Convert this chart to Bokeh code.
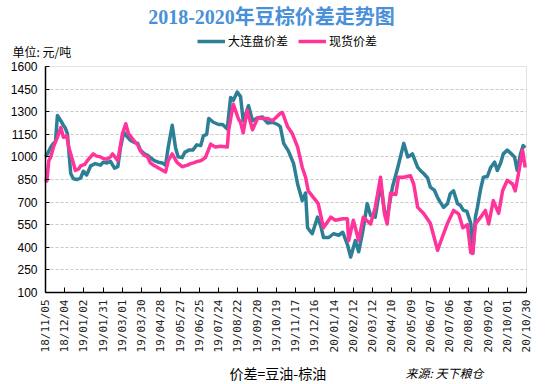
from bokeh.plotting import figure
from bokeh.models import Label, FixedTicker, Legend, LegendItem, Range1d, BoxAnnotation, Grid
from bokeh.embed import file_html
from bokeh.resources import INLINE

# x tick labels (every 29 days from 2018-11-05)
tick_labels = ["18/11/05", "18/12/04", "19/01/02", "19/01/31", "19/03/01", "19/03/30",
               "19/04/28", "19/05/27", "19/06/25", "19/07/24", "19/08/22", "19/09/20",
               "19/10/19", "19/11/17", "19/12/16", "20/01/14", "20/02/12", "20/03/12",
               "20/04/10", "20/05/09", "20/06/07", "20/07/06", "20/08/04", "20/09/02",
               "20/10/01", "20/10/30"]
y_ticks = [100, 250, 400, 550, 700, 850, 1000, 1150, 1300, 1450, 1600]

# 大连盘价差 : days since 2018-11-05, value (元/吨)
dce_day = [0, 3, 8, 12, 15, 18, 23, 27, 30, 33, 38, 42, 48, 53, 57, 62, 68, 75, 83, 87, 93,
           98, 104, 109, 113, 118, 122, 128, 134, 139, 143, 149, 154, 158, 164, 170, 176, 181,
           185, 191, 196, 200, 206, 210, 216, 222, 228, 234, 238, 243, 246, 253, 261, 267, 274,
           279, 283, 289, 294, 298, 303, 306, 312, 320, 327, 335, 342, 350, 354, 359, 366, 374,
           380, 387, 392, 395, 402, 410, 415, 419, 427, 434, 442, 448, 455, 460, 467, 472, 478,
           485, 490, 497, 505, 511, 515, 523, 531, 540, 546, 550, 553, 561, 565, 570, 576, 580,
           586, 591, 595, 600, 606, 610, 615, 621, 625, 630, 635, 638, 641, 644, 648, 651, 656,
           660, 666, 671, 677, 681, 686, 690, 696, 701, 707, 711, 716, 720, 723]
dce_val = [1000, 1020, 1065, 1090, 1100, 1275, 1240, 1210, 1190, 1155, 890, 855, 850, 860, 905,
           880, 940, 955, 945, 965, 960, 970, 925, 935, 1060, 1165, 1140, 1110, 1095, 1090, 1045,
           1020, 1010, 995, 975, 965, 960, 945, 1065, 1210, 1060, 1000, 995, 1030, 1045, 1045,
           1080, 1075, 1140, 1150, 1255, 1230, 1215, 1215, 1185, 1395, 1375, 1430, 1400, 1240,
           1300, 1340, 1240, 1260, 1265, 1225, 1230, 1215, 1200, 1090, 1040, 955, 820, 710, 760,
           530, 490, 600, 540, 465, 465, 490, 480, 500, 420, 335, 445, 370, 500, 690, 610, 600,
           820, 640, 600, 800, 930, 1090, 1000, 1010, 1020, 930, 910, 890, 860, 800, 780, 730,
           700, 665, 690, 755, 775, 690, 680, 645, 640, 600, 560, 360, 600, 665, 790, 865, 870,
           930, 965, 910, 960, 1020, 1045, 1025, 1000, 910, 1020, 1075, 1060]

# 现货价差
spot_day = [0, 2, 5, 8, 12, 15, 18, 23, 27, 32, 35, 41, 45, 50, 53, 59, 63, 68, 72, 77, 83,
            87, 93, 98, 101, 109, 116, 121, 125, 133, 139, 143, 149, 154, 158, 163, 169, 173,
            181, 185, 191, 196, 199, 206, 214, 219, 223, 229, 234, 241, 249, 256, 264, 274,
            276, 283, 291, 294, 298, 304, 312, 320, 327, 335, 342, 347, 354, 357, 365, 372,
            380, 387, 392, 396, 404, 411, 419, 430, 437, 448, 455, 457, 464, 472, 479, 490,
            497, 505, 511, 515, 520, 528, 532, 540, 550, 555, 561, 570, 580, 591, 595, 606,
            615, 623, 629, 636, 641, 644, 648, 656, 663, 668, 675, 683, 689, 696, 704, 708,
            713, 719, 723]
spot_val = [855, 840, 975, 1000, 1065, 1100, 1130, 1195, 1130, 1140, 1065, 975, 910, 920, 940,
            950, 975, 1000, 1020, 1005, 1000, 990, 985, 1000, 1020, 975, 1155, 1220, 1155, 1110,
            1080, 1040, 1010, 1000, 960, 945, 930, 920, 900, 975, 1020, 980, 960, 935, 945, 955,
            960, 970, 975, 995, 1085, 1065, 1070, 1065, 1175, 1350, 1250, 1230, 1160, 1310,
            1180, 1260, 1255, 1255, 1240, 1260, 1290, 1295, 1200, 1155, 1065, 930, 865, 775,
            730, 690, 530, 600, 580, 590, 590, 445, 580, 445, 600, 555, 665, 865, 620, 555, 760,
            750, 865, 865, 875, 820, 665, 625, 560, 380, 430, 560, 645, 620, 530, 550, 365,
            360, 555, 600, 645, 555, 710, 625, 775, 845, 820, 775, 890, 1045, 930]

W, H = 547, 384
# where the plotting box sits on the canvas (pixels)
BOX_L, BOX_R, BOX_T, BOX_B = 45, 526, 66, 292
X0, X1 = 0, 725            # days shown
Y0, Y1 = y_ticks[0], y_ticks[-1]
px_day = (BOX_R - BOX_L) / (X1 - X0)
val_px = (Y1 - Y0) / (BOX_B - BOX_T)
x_range = Range1d(X0 - BOX_L / px_day, X1 + (W - BOX_R) / px_day)
y_range = Range1d(Y0 - (H - BOX_B) * val_px, Y1 + BOX_T * val_px)

p = figure(width=W, height=H, output_backend="svg", toolbar_location=None, title=None,
           x_range=x_range, y_range=y_range, min_border=0,
           min_border_left=0, min_border_right=0, min_border_top=0, min_border_bottom=0,
           background_fill_color="white", border_fill_color="white")
p.outline_line_color = None

# plot box (gray top/right border)
p.add_layout(BoxAnnotation(left=X0, right=X1, bottom=Y0, top=Y1, fill_color=None,
                           line_color="#a0a0a0", line_width=1, level="underlay"))

# grid
p.xgrid.visible = False
grid_vals = y_ticks[1:-1]
if "cross_bounds" in Grid.properties():
    p.ygrid.ticker = FixedTicker(ticks=grid_vals)
    p.ygrid.cross_bounds = (X0, X1)
    p.ygrid.grid_line_color = "#c8c8c8"
    p.ygrid.grid_line_dash = "3 2"
else:
    p.ygrid.visible = False
    p.segment(x0=[X0] * len(grid_vals), x1=[X1] * len(grid_vals), y0=grid_vals, y1=grid_vals,
              line_color="#c8c8c8", line_dash="3 2", line_width=1)

# y axis
p.yaxis.fixed_location = X0
p.yaxis.bounds = (Y0, Y1)
p.yaxis.ticker = FixedTicker(ticks=y_ticks)
p.yaxis.major_label_text_font = "Liberation Sans"
p.yaxis.major_label_text_font_size = "12px"
p.yaxis.major_label_text_color = "#000000"
p.yaxis.axis_line_color = "#000000"
p.yaxis.axis_line_width = 1.5
p.yaxis.major_tick_in = 4
p.yaxis.major_tick_out = 0
p.yaxis.minor_tick_line_color = None
p.yaxis.major_label_standoff = 8

# x axis
x_ticks = [29 * i for i in range(len(tick_labels))]
p.xaxis.fixed_location = Y0
p.xaxis.bounds = (X0, X1)
p.xaxis.ticker = FixedTicker(ticks=x_ticks)
p.xaxis.major_label_overrides = {t: l for t, l in zip(x_ticks, tick_labels)}
p.xaxis.major_label_orientation = 1.5708
p.xaxis.major_label_text_font = "DejaVu Sans Mono"
p.xaxis.major_label_text_font_size = "11px"
p.xaxis.major_label_text_color = "#222222"
p.xaxis.axis_line_color = "#000000"
p.xaxis.axis_line_width = 1.5
p.xaxis.major_tick_in = 5
p.xaxis.major_tick_out = 0
p.xaxis.minor_tick_line_color = None
p.xaxis.major_label_standoff = 7

r1 = p.line(dce_day, dce_val, line_color="#2C7F95", line_width=3.5, line_join="round")
r2 = p.line(spot_day, spot_val, line_color="#FF3399", line_width=3.5, line_join="round")

legend = Legend(items=[LegendItem(label="大连盘价差", renderers=[r1]),
                       LegendItem(label="现货价差", renderers=[r2])],
                orientation="horizontal", location=(197, H - 49),
                label_text_font="Noto Sans CJK SC", label_text_font_size="12px",
                label_text_color="#000000",
                glyph_width=28, glyph_height=12, spacing=10, label_standoff=3,
                background_fill_alpha=0, border_line_color=None, padding=0, margin=0)
p.add_layout(legend)

p.add_layout(Label(x=271, y=H - 16, x_units="screen", y_units="screen",
                   text="2018-2020年豆棕价差走势图", text_align="center", text_baseline="middle",
                   text_font="'Liberation Serif', 'Noto Sans CJK SC'", text_font_size="20px",
                   text_font_style="bold", text_color="#4A90D9"))
p.add_layout(Label(x=12, y=H - 51, x_units="screen", y_units="screen",
                   text="单位: 元/吨", text_baseline="middle",
                   text_font="Noto Sans CJK SC", text_font_size="12px", text_color="#000000"))
p.add_layout(Label(x=229, y=H - 372, x_units="screen", y_units="screen",
                   text="价差=豆油-棕油", text_baseline="middle",
                   text_font="Noto Sans CJK SC", text_font_size="14px", text_color="#000000"))
p.add_layout(Label(x=405, y=H - 372, x_units="screen", y_units="screen",
                   text="来源:  天下粮仓", text_baseline="middle",
                   text_font="Noto Sans CJK SC", text_font_size="12px",
                   text_font_style="italic", text_color="#000000"))

open("out.html", "w").write(file_html(p, INLINE))
